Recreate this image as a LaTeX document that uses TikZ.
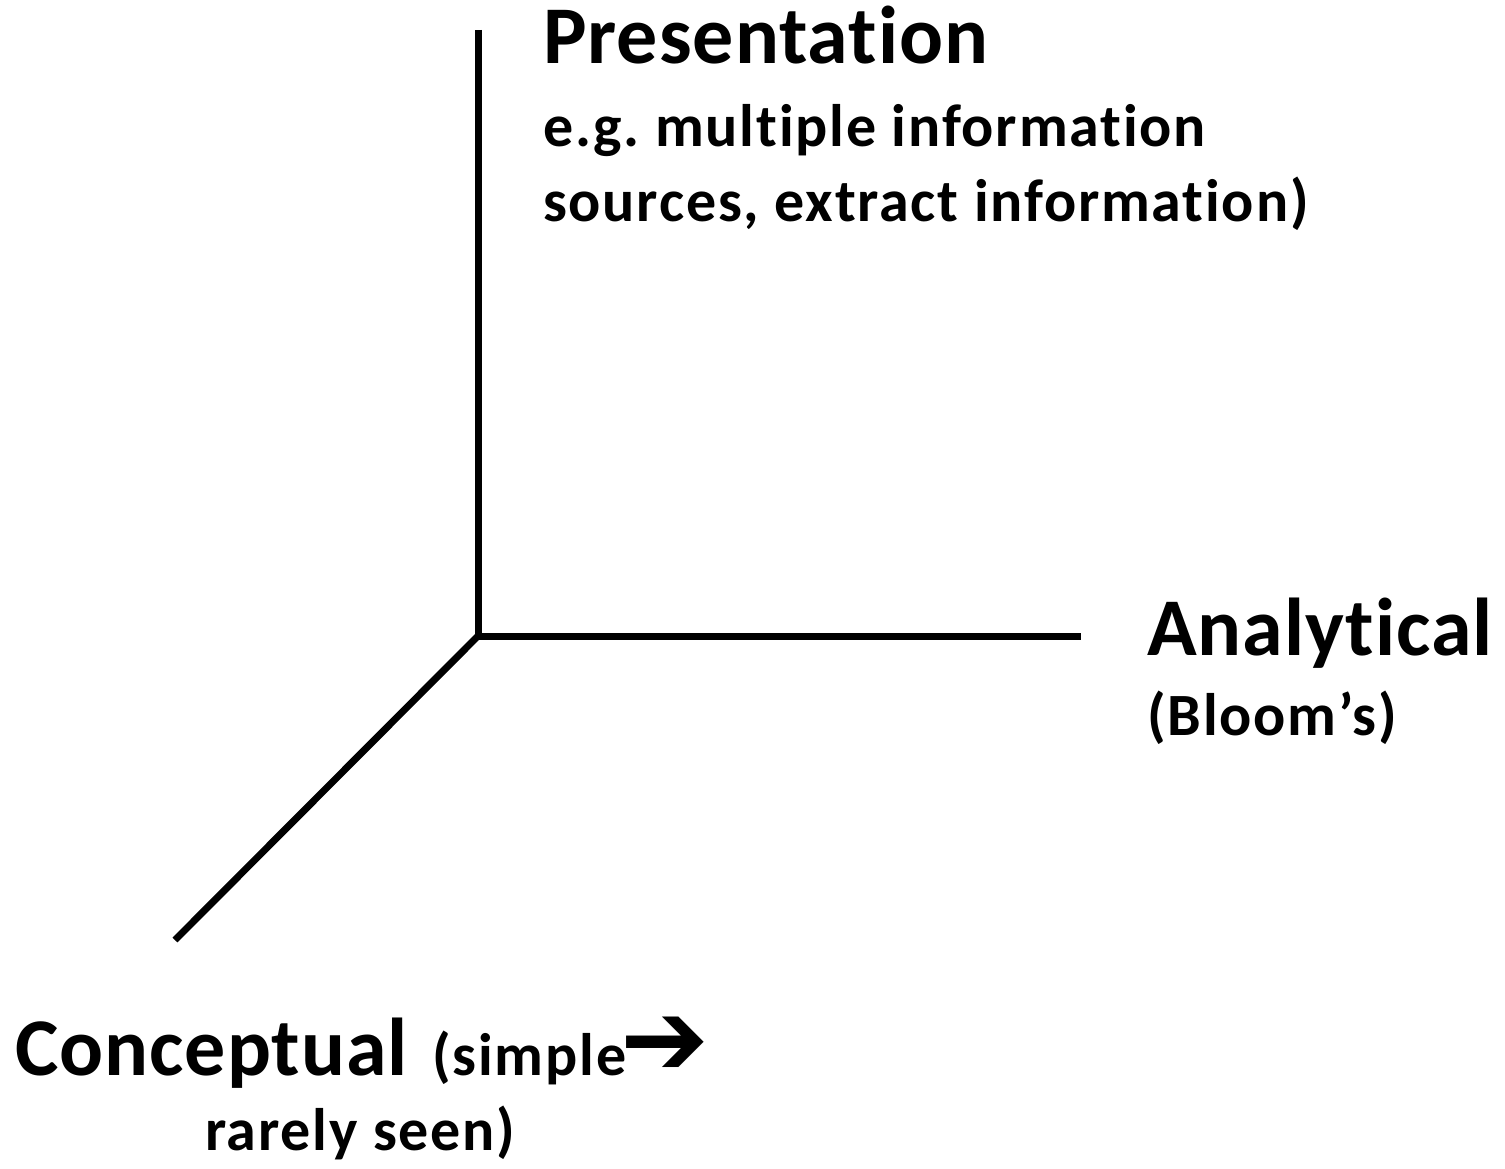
\documentclass[tikz,border=0pt]{standalone}
\usepackage{fontspec}
\setmainfont{Carlito}[Ligatures={NoCommon}]
\newfontfamily\symfont{DejaVu Sans}
\frenchspacing
\begin{document}
\begin{tikzpicture}[x=1pt,y=-1pt,
  axis/.style={line width=7pt,line cap=butt},
  big/.style={inner sep=0pt,anchor=base west,font=\fontsize{82}{96}\selectfont\bfseries\addfontfeatures{LetterSpace=1.2}},
  small/.style={inner sep=0pt,anchor=base west,font=\fontsize{60}{75}\selectfont\bfseries\addfontfeatures{LetterSpace=3}}]
\useasboundingbox (0,0) rectangle (1505,1169);
\coordinate (O) at (478,636);
\coordinate (top) at (478,30);
\coordinate (right) at (1081,636);
\coordinate (left) at (175,940);
\draw[axis] (top) -- (O) -- (right);
\draw[axis] (O) -- (left);
\node[big] (pres) at (543,64) {Presentation};
\node[small] (pres1) at (543,147) {e.g. multiple information};
\node[small] (pres2) at (543,222) {sources, extract information)};
\node[big] (ana) at (1147,655) {Analytical};
\node[small] (ana1) at (1147,735) {(Bloom’s)};
\node[big] (con) at (15,1075) {Conceptual};
\node[small] (con1) at (432,1075) {(simple\kern-6pt{\symfont\bfseries\fontsize{106}{106}\selectfont ➔}};
\node[small] (con2) at (205,1150) {rarely seen)};
\end{tikzpicture}
\end{document}
